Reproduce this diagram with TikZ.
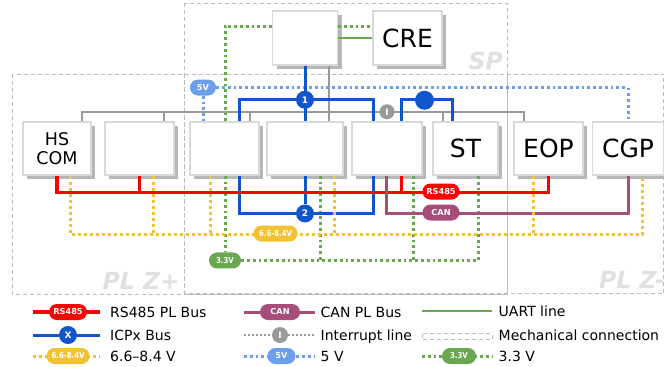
\documentclass[tikz,border=0pt]{standalone}
\usepackage{fontspec}
\setmainfont{DejaVu Sans}
\usepackage{graphicx}
\usetikzlibrary{shadows,calc}
\pgfdeclarelayer{bg}
\pgfdeclarelayer{fg}
\pgfsetlayers{bg,main,fg}
\definecolor{rsred}{HTML}{FF0000}
\definecolor{icpblue}{HTML}{1155CC}
\definecolor{canpurple}{HTML}{A64D79}
\definecolor{vyellow}{HTML}{F1C232}
\definecolor{vgreen}{HTML}{6AA84F}
\definecolor{vblue}{HTML}{6D9EEB}
\definecolor{busgray}{HTML}{999999}
\definecolor{boxedge}{HTML}{D9D9D9}
\definecolor{shadowgray}{HTML}{B7B7B7}
\definecolor{regiongray}{HTML}{BBBBBB}
\definecolor{labelgray}{HTML}{E0E0E0}
\tikzset{
  unitbox/.style={draw=boxedge, line width=1.5bp, fill=white, minimum height=53bp,
    inner sep=0pt, align=center,
    general shadow={fill=shadowgray, shadow xshift=4bp, shadow yshift=-4bp},
    font=\fontsize{25bp}{28bp}\selectfont},
  region/.style={draw=regiongray, line width=1bp, dash pattern=on 4bp off 3bp},
  regionlabel/.style={text=labelgray, font=\bfseries\itshape\fontsize{23.5bp}{26bp}\selectfont, inner sep=0pt},
  rsline/.style={draw=rsred, line width=3.2bp},
  icpline/.style={draw=icpblue, line width=3bp},
  canline/.style={draw=canpurple, line width=3bp},
  grayline/.style={draw=busgray, line width=2bp},
  uartline/.style={draw=vgreen, line width=2bp},
  yelline/.style={draw=vyellow, line width=3bp, dash pattern=on 3bp off 3bp},
  grnline/.style={draw=vgreen, line width=3bp, dash pattern=on 2.8bp off 3bp},
  vbline/.style={draw=vblue, line width=3bp, dash pattern=on 2.8bp off 3bp},
  irqline/.style={draw=busgray, line width=2bp, dash pattern=on 2bp off 2bp},
  pill/.style={rounded corners=8bp, minimum height=16bp, inner sep=0pt, text=white,
    font=\bfseries\fontsize{8.2bp}{9bp}\selectfont},
  icpcirc/.style={circle, fill=icpblue, minimum size=18bp, inner sep=0pt, text=white,
    font=\bfseries\fontsize{9bp}{10bp}\selectfont},
  irqcirc/.style={circle, fill=busgray, minimum size=15bp, inner sep=0pt, text=white,
    font=\bfseries\fontsize{9bp}{10bp}\selectfont},
  legtext/.style={anchor=base west, inner sep=0pt, font=\fontsize{14bp}{16bp}\selectfont}
}
\begin{document}
\begin{tikzpicture}[x=1bp,y=-1bp]
\useasboundingbox (0,0) rectangle (664,366);

% regions
\begin{pgfonlayer}{bg}
\draw[region] (184,3) rectangle (507,294);
\draw[region] (12,74) rectangle (507,294);
\draw[region] (184,74) rectangle (663.5,293.5);
\node[regionlabel, anchor=base east] (lblsp) at (503,69) {SP};
\node[regionlabel, anchor=base east] (lblplzp) at (180,289) {PL Z+};
\node[regionlabel, anchor=base west] (lblplzm) at (599,288) {PL Z-};
\end{pgfonlayer}

% boxes
\node[unitbox, minimum width=65bp, minimum height=54bp] (sp) at (305,38) {};
\node[unitbox, minimum width=69bp, minimum height=54bp] (cre) at (407.5,38) {CRE};
\node[unitbox, minimum width=68bp, font=\fontsize{17.5bp}{19bp}\selectfont] (hscom) at (57,148.5) {HS\\COM};
\node[unitbox, minimum width=69bp] (b2) at (139.5,148.5) {};
\node[unitbox, minimum width=69bp] (b3) at (224.5,148.5) {};
\node[unitbox, minimum width=76bp] (b4) at (305,148.5) {};
\node[unitbox, minimum width=70bp] (b5) at (387,148.5) {};
\node[unitbox, minimum width=65bp] (st) at (465.5,148.5) {ST};
\node[unitbox, minimum width=69bp] (eop) at (548.5,148.5) {EOP};
\node[unitbox, minimum width=71bp] (cgp) at (628,148.5) {CGP};

% markers and pills on top
\begin{pgfonlayer}{fg}
\node[pill, fill=vblue, minimum width=26bp] (v5) at (203,87.5) {5V};
\node[icpcirc] (c1) at ($(b4.north)+(0,-21.5)$) {1};
\node[icpcirc, minimum size=19bp] (c3) at ($(b5.north)+(37.5,-21)$) {};
\node[irqcirc] (irq) at ($(b5.north)+(0,-9.5)$) {I};
\node[icpcirc] (c2) at ($(b4.south)+(0,37.7)$) {2};
\node[pill, fill=rsred, minimum width=37bp] (rsl) at (441,191.5) {RS485};
\node[pill, fill=canpurple, minimum width=37bp] (canl) at (441,212.5) {CAN};
\node[pill, fill=vyellow, minimum width=44bp] (yl) at (275.5,233.5) {\scalebox{0.85}[1]{6.6-8.4V}};
\node[pill, fill=vgreen, minimum width=32bp] (g33) at ($(b3.south)+(0.5,84.7)$) {\scalebox{0.85}[1]{3.3V}};
\end{pgfonlayer}

% 5V
\draw[vbline] (v5.south) -- ($(b3.north)+(-21.5,0)$);
\draw[vbline] (v5.east) -| (cgp.north);

% green 3.3V
\draw[grnline] ($(sp.west)+(0,-12)$) -| ($(b3.north)+(0.5,0)$);
\draw[grnline] ($(b3.south)+(0.5,0)$) -- (g33.north);
\draw[grnline] (g33.east) -| ($(st.south)+(13,0)$);
\draw[grnline] ($(b4.south)+(15.5,0)$) -- ++(0,84.5);
\draw[grnline] ($(b5.south)+(26,0)$) -- ++(0,84.5);
\draw[grnline] ($(sp.east)+(0,-12)$) -- ($(cre.west)+(0,-12)$);
\draw[uartline] ($(sp.east)+(0,-0.5)$) -- ($(cre.west)+(0,-0.5)$);

% gray bus
\draw[grayline] ($(hscom.north)+(25,0)$) -- ++(0,-9.5) -| ($(eop.north)+(-24.5,0)$);
\draw[grayline] ($(b2.north)+(24.5,0)$) -- ++(0,-9.5);
\draw[grayline] ($(b3.north)+(25.5,0)$) -- ++(0,-9.5);
\draw[grayline] ($(b4.north)+(24,0)$) -- ++(0,-9.5);
\draw[grayline] ($(st.north)+(-22.5,0)$) -- ++(0,-9.5);
\draw[grayline] ($(sp.south)+(23.5,0)$) -- ++(0,47.5);

% ICPx bus 1
\draw[icpline] (sp.south) -- (b4.north);
\draw[icpline] ($(b3.north)+(14.5,0)$) -- ++(0,-21.5) -| ($(b5.north)+(-14,0)$);
% ICPx second
\draw[icpline] ($(b5.north)+(14.5,0)$) -- ++(0,-22) -| ($(st.north)+(-13.5,0)$);
% ICPx bus 2
\draw[icpline] ($(b3.south)+(14.5,0)$) -- ++(0,37.7) -| ($(b5.south)+(-14,0)$);
\draw[icpline] (b4.south) -- (c2);

% RS485
\draw[rsline] (hscom.south) -- ++(0,16.5) -| (eop.south);
\draw[rsline] (b2.south) -- ++(0,16.5);
\draw[rsline] ($(b5.south)+(14.5,0)$) -- ++(0,16.5);

% CAN
\draw[canline] ($(b5.south)+(-0.5,0)$) -- ++(0,37.3) -| (cgp.south);

% 6.6-8.4V
\draw[yelline] ($(hscom.south)+(13.5,0)$) -- ++(0,58.5) -| ($(cgp.south)+(14.5,0)$);
\draw[yelline] ($(b2.south)+(14,0)$) -- ++(0,58.5);
\draw[yelline] ($(b3.south)+(-14,0)$) -- ++(0,58.5);
\draw[yelline] ($(b4.south)+(29,0)$) -- ++(0,58.5);
\draw[yelline] ($(eop.south)+(-15,0)$) -- ++(0,58.5);

% legend
\coordinate (la1) at (33,312); \coordinate (lb1) at (100,312);
\coordinate (la2) at (33,335); \coordinate (lb2) at (100,335);
\coordinate (la3) at (33,356); \coordinate (lb3) at (100,356);
\coordinate (ma1) at (244,312); \coordinate (mb1) at (315,312);
\coordinate (ma2) at (244,335); \coordinate (mb2) at (315,335);
\coordinate (ma3) at (244,356); \coordinate (mb3) at (315,356);
\coordinate (ra1) at (422,311); \coordinate (rb1) at (492,311);
\coordinate (ra3) at (422,356); \coordinate (rb3) at (492,356);
\draw[rsline] (la1) -- (lb1);
\draw[icpline] (la2) -- (lb2);
\draw[yelline] (la3) -- (lb3);
\draw[canline] (ma1) -- (mb1);
\draw[irqline] (ma2) -- (mb2);
\draw[vbline] (ma3) -- (mb3);
\draw[uartline] (ra1) -- (rb1);
\draw[region] (422,333.5) rectangle (492,339.5);
\draw[grnline] (ra3) -- (rb3);
\node[pill, fill=rsred, minimum width=38bp] (lgrs) at (68,312) {RS485};
\node[icpcirc] (lgicp) at (68,335) {X};
\node[pill, fill=vyellow, minimum width=43bp] (lgyel) at (68,356) {\scalebox{0.85}[1]{6.6-8.4V}};
\node[pill, fill=canpurple, minimum width=40bp] (lgcan) at (280,312) {CAN};
\node[irqcirc, minimum size=16bp] (lgirq) at (280,335) {I};
\node[pill, fill=vblue, minimum width=28bp] (lgv5) at (281.5,356) {5V};
\node[pill, fill=vgreen, minimum width=34bp] (lgg33) at (459,356) {\scalebox{0.85}[1]{3.3V}};
\node[legtext] (t1) at (110,317.7) {RS485 PL Bus};
\node[legtext] (t2) at (110,340.2) {ICPx Bus};
\node[legtext] (t3) at (110,361.2) {6.6–8.4 V};
\node[legtext] (t4) at (320.5,317.7) {CAN PL Bus};
\node[legtext] (t5) at (320.5,340.2) {Interrupt line};
\node[legtext] (t6) at (320.5,361.2) {5 V};
\node[legtext] (t7) at (498.5,316.5) {UART line};
\node[legtext] (t8) at (498.5,340) {Mechanical connection};
\node[legtext] (t9) at (498.5,361.2) {3.3 V};
\end{tikzpicture}
\end{document}
